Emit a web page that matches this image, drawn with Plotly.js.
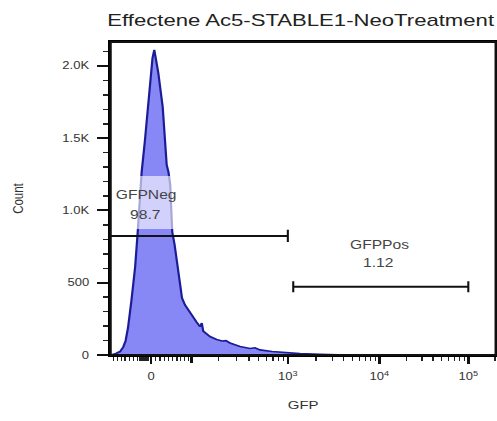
<!DOCTYPE html>
<html>
<head>
<meta charset="utf-8">
<script src="https://cdn.plot.ly/plotly-3.0.1.min.js"></script>
<style>
  html, body { margin: 0; padding: 0; background: #fff; }
  #wrap { width: 497px; height: 421px; overflow: hidden; position: relative; }
  #plot { width: 382px; height: 421px; transform-origin: 0 0; }
</style>
</head>
<body>
<div id="wrap"><div id="plot"></div></div>
<script>
// ---------------- data (GFP intensity, event count) ----------------
const gfpValues = [-98, -84, -73, -65, -59, -53, -44.5, -36, -30, -26, -21, -13.5, -7.4, -0.7, 3.4, 7.4,
  11.2, 16.4, 26.4, 31.6, 35.6, 39.8, 44, 46.4, 48.8, 54.2, 57.9, 63.6, 69.3, 73.2, 81.1, 89.4, 100,
  115, 126, 132, 137, 162, 190, 216, 236, 259, 326, 410, 460, 516, 685, 980, 1345, 2210, 4370];
const counts = [0, 10, 24, 55, 97, 187, 381, 609, 851, 1052, 1266, 1488, 1716, 1952, 2055, 2111,
  2055, 1952, 1716, 1488, 1315, 1266, 1176, 1003, 851, 768, 685, 588, 450, 394, 346, 318, 284,
  228, 196, 221, 166, 128, 107, 97, 100, 83, 59, 45, 50, 35, 24, 16, 10, 5, 0];

const gateNames = ["GFPNeg", "GFPPos"];
const gatePercents = ["98.7", "1.12"];
const gateMin = [null, 1140];       // null = open to the left edge
const gateMax = [1000, 100000];
const gateLevel = [824, 473];        // count level at which each gate bar is drawn

const yTickVals = [0, 500, 1000, 1500, 2000];
const yTickText = ["0", "500", "1.0K", "1.5K", "2.0K"];
const xTickVals = [0, 1000, 10000, 100000];
const xTickText = ["0", "10<sup>3</sup>", "10<sup>4</sup>", "10<sup>5</sup>"];
const xUnlabelledMajor = [100];
const xMinorVals = [-90, -80, -70, -60, -50, -40, -30, -25, -22, -19, -16, -13, -10, -7,
  10, 20, 30, 40, 50, 60, 70, 80, 90,
  200, 300, 400, 500, 600, 700, 800, 900,
  2000, 3000, 4000, 5000, 6000, 7000, 8000, 9000,
  20000, 30000, 40000, 50000, 60000, 70000, 80000, 90000, 200000];

// ---------------- logicle (biexponential) scale ----------------
const T = 262144, M = 4.5, W = 0.5;
const LN10 = Math.LN10, w = W * LN10, m = M * LN10;
function solveP() {
  let lo = 1.000001, hi = 100;
  for (let i = 0; i < 200; i++) {
    const p = (lo + hi) / 2;
    const g = 2 * p * Math.log(p) / (p + 1) - w;
    if (g > 0) hi = p; else lo = p;
  }
  return (lo + hi) / 2;
}
const P = solveP();
const K = T * Math.exp(-(m - w));
function S(z) {
  if (z < 0) return -S(-z);
  return K * (Math.exp(z) - P * P * Math.exp(-z / P) + P * P - 1);
}
function disp(v) {
  let lo = -30, hi = 30;
  for (let i = 0; i < 200; i++) {
    const mid = (lo + hi) / 2;
    if (S(mid) > v) hi = mid; else lo = mid;
  }
  return W + ((lo + hi) / 2) / LN10;
}

// ---------------- layout geometry ----------------
const F = 497 / 382;                 // horizontal stretch of the picture
const ML = 85, MR = 1, MT = 42, MB = 66, WD = 382, HT = 421;
const PW = WD - ML - MR, PH = HT - MT - MB;
document.getElementById('plot').style.transform = 'scale(' + F + ',1)';
const xRange = [0.044, 4.39];
const yRange = [0, 2166];
function px2paperX(px) { return (px / F - ML) / PW; }
function px2paperY(py) { return (HT - MB - py) / PH; }

const trace = {
  x: gfpValues.map(disp),
  y: counts,
  type: 'scatter',
  mode: 'lines',
  line: { color: 'rgb(28,28,150)', width: 1.7 },
  fill: 'tozeroy',
  fillcolor: 'rgb(135,135,245)',
  hoverinfo: 'skip',
  showlegend: false
};

const shapes = [];
const ink = '#111';
gateNames.forEach((g, i) => {
  const x0 = gateMin[i] === null ? xRange[0] : disp(gateMin[i]);
  const x1 = disp(gateMax[i]);
  const lv = gateLevel[i];
  const cap = i === 0 ? 42 : 38;
  shapes.push({ type: 'line', xref: 'x', yref: 'y', x0: x0, x1: x1, y0: lv, y1: lv,
    line: { color: ink, width: 2 } });
  if (gateMin[i] !== null) {
    shapes.push({ type: 'line', xref: 'x', yref: 'y', x0: x0, x1: x0, y0: lv - cap, y1: lv + cap,
      line: { color: ink, width: 1.6 } });
  }
  shapes.push({ type: 'line', xref: 'x', yref: 'y', x0: x1, x1: x1, y0: lv - cap, y1: lv + cap,
    line: { color: ink, width: 1.6 } });
});
// translucent label box behind GFPNeg text
shapes.push({ type: 'rect', xref: 'paper', yref: 'paper', layer: 'above',
  x0: px2paperX(114), x1: px2paperX(180), y0: px2paperY(229), y1: px2paperY(176),
  fillcolor: 'rgba(255,255,255,0.62)', line: { width: 0 } });
// plot frame
shapes.push({ type: 'rect', xref: 'paper', yref: 'paper', layer: 'above',
  x0: 0, x1: 1, y0: 0, y1: 1, fillcolor: 'rgba(0,0,0,0)',
  line: { color: '#111', width: 1.8 } });

const labelFont = { family: 'Liberation Sans, Arial, sans-serif', size: 12, color: '#444' };
const labelPos = [[[146.7, 195], [145.5, 215]], [[379, 245], [379, 263]]];
const annotations = [];
gateNames.forEach((g, i) => {
  [g, gatePercents[i]].forEach((t, j) => {
    annotations.push({ text: t, xref: 'paper', yref: 'paper',
      x: px2paperX(labelPos[i][j][0]), y: px2paperY(labelPos[i][j][1]),
      xanchor: 'center', yanchor: 'middle', showarrow: false, font: labelFont });
  });
});

const layout = {
  width: WD, height: HT,
  margin: { l: ML, r: MR, t: MT, b: MB, pad: 0 },
  paper_bgcolor: '#fff', plot_bgcolor: '#fff',
  font: { family: 'Liberation Sans, Arial, sans-serif', color: '#333' },
  title: { text: 'Effectene Ac5-STABLE1-NeoTreatment', xref: 'container', x: 0.605, xanchor: 'center',
    yref: 'container', y: 1 - 20 / HT, yanchor: 'middle',
    font: { size: 17, color: '#222' } },
  xaxis: {
    range: xRange, fixedrange: true,
    tickmode: 'array', tickvals: xTickVals.map(disp), ticktext: xTickText,
    ticks: 'outside', ticklen: 7, tickwidth: 1.9, tickcolor: ink,
    minor: { tickmode: 'array', tickvals: xMinorVals.map(disp), ticks: 'outside',
      ticklen: 3.5, tickwidth: 1, tickcolor: '#222', showgrid: false },
    showline: true, linewidth: 2, linecolor: '#000', mirror: true,
    showgrid: false, zeroline: false,
    tickfont: { size: 10, color: '#333' }, ticklabelstandoff: 4,
    title: { text: 'GFP', font: { size: 11.5, color: '#333' }, standoff: 20 }
  },
  xaxis2: {
    overlaying: 'x', matches: 'x', range: xRange, fixedrange: true, side: 'bottom',
    tickmode: 'array', tickvals: xUnlabelledMajor.map(disp),
    ticks: 'outside', ticklen: 7, tickwidth: 1.9, tickcolor: ink,
    showticklabels: false, showline: false, showgrid: false, zeroline: false
  },
  yaxis: {
    range: yRange, fixedrange: true,
    tickmode: 'array', tickvals: yTickVals, ticktext: yTickText,
    ticks: 'outside', ticklen: 8.5, tickwidth: 2, tickcolor: ink,
    minor: { tickmode: 'linear', tick0: 0, dtick: 100, ticks: 'outside',
      ticklen: 4, tickwidth: 1.5, tickcolor: '#222', showgrid: false },
    showline: true, linewidth: 2, linecolor: '#000', mirror: true,
    showgrid: false, zeroline: false,
    tickfont: { size: 10, color: '#333' }, ticklabelstandoff: 4,
    title: { text: 'Count', font: { size: 11.5, color: '#333' }, standoff: 27 }
  },
  shapes: shapes,
  annotations: annotations
};

const tickHolder = { x: [], y: [], xaxis: 'x2', yaxis: 'y', type: 'scatter', mode: 'lines',
  hoverinfo: 'skip', showlegend: false };

Plotly.newPlot('plot', [trace, tickHolder], layout, { displayModeBar: false, staticPlot: true });
</script>
</body>
</html>
